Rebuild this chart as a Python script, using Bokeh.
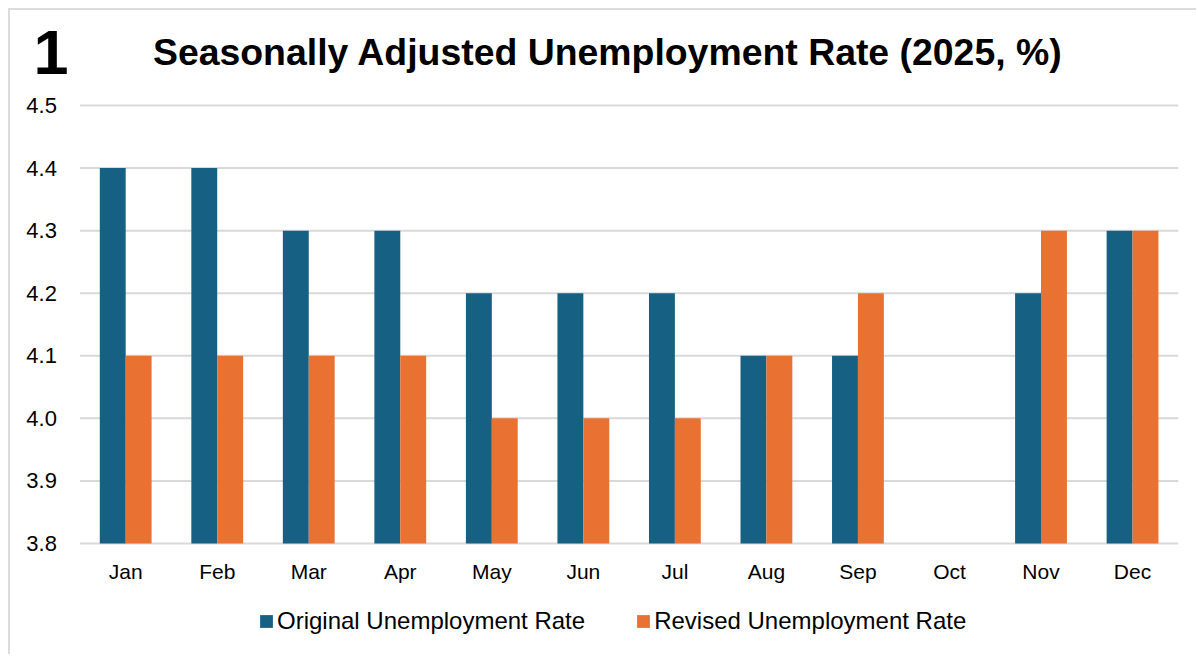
import math
from bokeh.plotting import figure
from bokeh.models import (Range1d, ColumnDataSource, Legend, LegendItem, FixedTicker,
                          NumeralTickFormatter)
from bokeh.core.properties import value
from bokeh.transform import dodge
from bokeh.embed import file_html
from bokeh.resources import INLINE

months = ["Jan", "Feb", "Mar", "Apr", "May", "Jun", "Jul", "Aug", "Sep", "Oct", "Nov", "Dec"]
original = [4.4, 4.4, 4.3, 4.3, 4.2, 4.2, 4.2, 4.1, 4.1, math.nan, 4.2, 4.3]
revised = [4.1, 4.1, 4.1, 4.1, 4.0, 4.0, 4.0, 4.1, 4.2, math.nan, 4.3, 4.3]
y_ticks = [3.8, 3.9, 4.0, 4.1, 4.2, 4.3, 4.4, 4.5]
y_base = 3.8
chart_number = "1"
title_text = "Seasonally Adjusted Unemployment Rate (2025, %)"
series_names = ["Original Unemployment Rate", "Revised Unemployment Rate"]

BLUE = "#166083"
ORANGE = "#E97132"
GRID = "#d9d9d9"
FONT = "Liberation Sans"

# ---- layout geometry (page pixels) ----
X0_PAGE, STEP = 125.2, 91.53        # centre of first month, px per month
YB_PAGE, PPU = 543.0, 625.7         # pixel row of the base value, px per unit
CANVAS_L, CANVAS_T, CANVAS_R, CANVAS_B = 10, 10, 1198, 656

def dx(px):
    return (px - X0_PAGE) / STEP

def dy(py):
    return y_base + (YB_PAGE - py) / PPU

idx = list(range(len(months)))
src = ColumnDataSource(dict(idx=idx, original=original, revised=revised))

p = figure(
    x_range=Range1d(dx(CANVAS_L), dx(CANVAS_R)),
    y_range=Range1d(dy(CANVAS_B), dy(CANVAS_T)),
    width=CANVAS_R - CANVAS_L, height=CANVAS_B - CANVAS_T,
    output_backend="svg", toolbar_location=None,
    min_border_left=0, min_border_right=0, min_border_top=0, min_border_bottom=0,
)
p.outline_line_color = None
p.styles = {"margin-left": "8px", "margin-top": "8px",
            "border-top": "2px solid #dcdcdc", "border-left": "2px solid #dcdcdc"}

# horizontal gridlines across the month area only
p.segment(x0=[-0.5] * len(y_ticks), x1=[len(months) - 0.5] * len(y_ticks),
          y0=y_ticks, y1=y_ticks, line_color=GRID, line_width=2)

w = 0.283
r1 = p.vbar(x=dodge("idx", -w / 2, range=p.x_range), top="original", bottom=y_base, width=w,
            source=src, fill_color=BLUE, line_color=None)
r2 = p.vbar(x=dodge("idx", w / 2, range=p.x_range), top="revised", bottom=y_base, width=w,
            source=src, fill_color=ORANGE, line_color=None)

# axes drawn inside the frame at fixed locations
p.xaxis.fixed_location = y_base
p.xaxis.ticker = FixedTicker(ticks=idx)
p.xaxis.major_label_overrides = {i: m for i, m in zip(idx, months)}
p.xaxis.axis_line_color = None
p.xaxis.major_tick_line_color = None
p.xaxis.minor_tick_line_color = None
p.xaxis.major_label_text_font = FONT
p.xaxis.major_label_text_font_size = "21px"
p.xaxis.major_label_text_color = "black"
p.xaxis.major_label_standoff = 10

p.yaxis.fixed_location = -0.5
p.yaxis.ticker = FixedTicker(ticks=y_ticks)
p.yaxis.formatter = NumeralTickFormatter(format="0.0")
p.yaxis.axis_line_color = None
p.yaxis.major_tick_line_color = None
p.yaxis.minor_tick_line_color = None
p.yaxis.major_label_text_font = FONT
p.yaxis.major_label_text_font_size = "22px"
p.yaxis.major_label_text_color = "black"
p.yaxis.major_label_standoff = 17

p.grid.visible = False

# chart number and title
p.text(x=[dx(33)], y=[dy(52)], text=[chart_number], text_font=value(FONT), text_font_style="bold",
       text_font_size="63px", text_align="left", text_baseline="alphabetic", text_color="black")
p.text(x=[dx(607.5)], y=[dy(51)], text=[title_text], text_font=value(FONT), text_font_style="bold",
       text_font_size="37.4px", text_align="center", text_baseline="alphabetic", text_color="black")

legend = Legend(items=[LegendItem(label=series_names[0], renderers=[r1]),
                       LegendItem(label=series_names[1], renderers=[r2])],
                orientation="horizontal", location=(248, 21),
                glyph_width=16, glyph_height=16, label_standoff=3, spacing=50,
                padding=0, margin=0, border_line_color=None, background_fill_alpha=0,
                label_text_font=FONT, label_text_font_size="24px", label_text_color="black")
p.add_layout(legend)

open("out.html", "w").write(file_html(p, INLINE))
